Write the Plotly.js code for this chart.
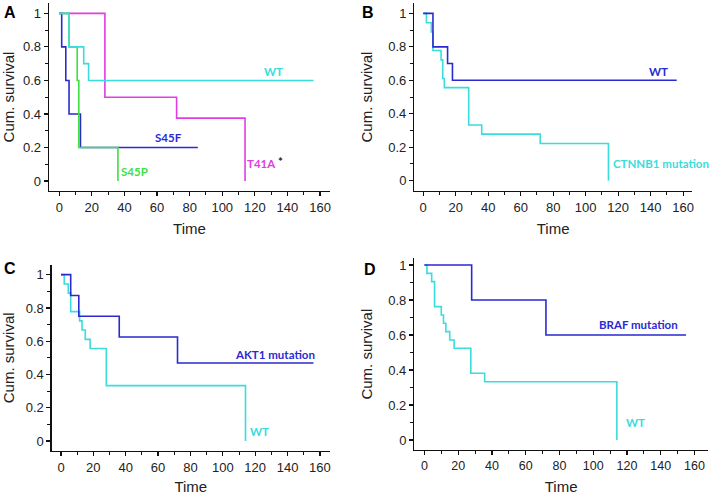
<!DOCTYPE html>
<html>
<head>
<meta charset="utf-8">
<script src="https://cdn.plot.ly/plotly-3.0.1.min.js"></script>
<style>
  html, body { margin: 0; padding: 0; background: #fff; overflow: hidden; }
  #chart { width: 709px; height: 495px; }
</style>
</head>
<body>
<div id="chart"></div>
<script>
// panel A: CTNNB1 variants
const aWtT = [0, 6, 15, 18, 156];
const aWtS = [1, 0.8, 0.7, 0.6, 0.6];
const aS45fT = [0, 1.5, 4, 6, 13, 85];
const aS45fS = [1, 0.8, 0.6, 0.4, 0.2, 0.2];
const aS45pT = [0, 6, 11, 12, 36];
const aS45pS = [1, 0.8, 0.6, 0.2, 0];
const aT41aT = [0, 28, 72, 114];
const aT41aS = [1, 0.5, 0.375, 0];

// panel B: WT vs CTNNB1 mutation
const bWtT = [0, 6, 15, 18, 156];
const bWtS = [1, 0.8, 0.7, 0.6, 0.6];
const bMutT = [0, 2, 5, 6, 11, 12, 13, 28, 36, 72, 114];
const bMutS = [1, 0.944, 0.889, 0.778, 0.722, 0.611, 0.556, 0.333, 0.278, 0.222, 0];

// panel C: AKT1 mutation vs WT
const cMutT = [0, 6, 11, 36, 72, 156];
const cMutS = [1, 0.875, 0.75, 0.625, 0.469, 0.469];
const cWtT = [0, 2, 4.5, 6, 11.5, 13, 15, 18, 28, 114];
const cWtS = [1, 0.944, 0.889, 0.778, 0.722, 0.667, 0.611, 0.556, 0.333, 0];

// panel D: BRAF mutation vs WT
const dMutT = [0, 28, 72, 155];
const dMutS = [1, 0.8, 0.6, 0.6];
const dWtT = [0, 1.5, 4.3, 6, 10, 11.3, 12.7, 15, 17.6, 27.5, 35.7, 114];
const dWtS = [1, 0.952, 0.905, 0.762, 0.714, 0.667, 0.619, 0.571, 0.524, 0.381, 0.333, 0];

const CYAN = "#3adcdc";
const BLUE = "#2a2ad2";
const MAGENTA = "#e23ce2";
const GREEN = "#3fe03f";

function km(x, y, color, ax) {
  return {
    x: x, y: y, type: "scatter", mode: "lines",
    line: { shape: "hv", color: color, width: 1.6 },
    xaxis: "x" + ax, yaxis: "y" + ax,
    hoverinfo: "skip", showlegend: false,
  };
}

const data = [
  km(aT41aT, aT41aS, MAGENTA, ""),
  km(aS45fT, aS45fS, BLUE, ""),
  km(aS45pT, aS45pS, GREEN, ""),
  km(aWtT, aWtS, CYAN, ""),
  km(bMutT, bMutS, CYAN, "2"),
  km(bWtT, bWtS, BLUE, "2"),
  km(cWtT, cWtS, CYAN, "3"),
  km(cMutT, cMutS, BLUE, "3"),
  km(dWtT, dWtS, CYAN, "4"),
  km(dMutT, dMutS, BLUE, "4"),
];

const tickFont = { family: "Liberation Sans, Arial, sans-serif", size: 13, color: "#222" };
const titleFont = { family: "Liberation Sans, Arial, sans-serif", size: 15, color: "#222" };

function xax(domain, range, anchor, fsize) {
  return {
    domain: domain, range: range, anchor: anchor,
    showline: true, linecolor: "#111", linewidth: 1.3,
    showgrid: false, zeroline: false,
    ticks: "outside", ticklen: 4, tickwidth: 1.2, tickcolor: "#111",
    tick0: 0, dtick: 20, tickfont: Object.assign({}, tickFont, { size: fsize || 13 }),
    ticklabeloverflow: "allow",
    minor: { ticks: "outside", ticklen: 3, tickwidth: 1, tickcolor: "#111", dtick: 10, showgrid: false },
    title: { text: "Time", font: titleFont, standoff: 10 },
    fixedrange: true,
  };
}
function yax(domain, range, anchor, standoff) {
  return {
    domain: domain, range: range, anchor: anchor,
    showline: true, linecolor: "#111", linewidth: 1.3,
    showgrid: false, zeroline: false,
    ticks: "outside", ticklen: 4, tickwidth: 1.2, tickcolor: "#111",
    tick0: 0, dtick: 0.2, tickfont: tickFont,
    minor: { ticks: "outside", ticklen: 3, tickwidth: 1, tickcolor: "#111", dtick: 0.1, showgrid: false },
    title: { text: "Cum. survival", font: titleFont, standoff: standoff },
    fixedrange: true,
  };
}

const labFont = (c) => ({ family: "Lato, Liberation Sans, sans-serif", size: 11.5, color: c, weight: "bold" });
function lab(text, x, y, ax, color) {
  return {
    text: "<b>" + text + "</b>", x: x, y: y, xref: "x" + ax, yref: "y" + ax,
    showarrow: false, font: labFont(color), xanchor: "center", yanchor: "middle",
  };
}
function letter(text, x, y) {
  return {
    text: "<b>" + text + "</b>", x: x, y: y, xref: "paper", yref: "paper",
    showarrow: false, xanchor: "center", yanchor: "middle",
    font: { family: "Liberation Sans, Arial, sans-serif", size: 16, color: "#000" },
  };
}

const layout = {
  width: 709, height: 495,
  margin: { l: 0, r: 0, t: 0, b: 0 },
  paper_bgcolor: "#fff", plot_bgcolor: "rgba(0,0,0,0)",
  showlegend: false,
  xaxis: xax([0.0691, 0.4654], [-6.3, 166.1], "y"),
  yaxis: yax([0.6147, 0.9933], [-0.058, 1.06], "x", 8),
  xaxis2: xax([0.5843, 0.976], [-5.5, 165.4], "y2"),
  yaxis2: yax([0.6147, 0.9933], [-0.06, 1.06], "x2", 12),
  xaxis3: xax([0.0729, 0.4654], [-5.75, 166.2], "y3"),
  yaxis3: yax([0.0895, 0.4646], [-0.058, 1.058], "x3", 9),
  xaxis4: xax([0.5843, 0.9986], [-6.0, 168.0], "y4", 12.5),
  yaxis4: yax([0.0909, 0.4782], [-0.057, 1.038], "x4", 12),
  annotations: [
    letter("A", 10 / 709, 1 - 13 / 495),
    letter("B", 368 / 709, 1 - 13 / 495),
    letter("C", 10 / 709, 1 - 268 / 495),
    letter("D", 370 / 709, 1 - 269 / 495),
    lab("WT", 131.3, 0.652, "", CYAN),
    lab("S45F", 66.9, 0.258, "", BLUE),
    lab("S45P", 46.4, 0.055, "", GREEN),
    lab("T41A", 123.9, 0.105, "", MAGENTA),
    lab("*", 135.6, 0.115, "", "#222"),
    lab("WT", 144.6, 0.655, "2", BLUE),
    lab("CTNNB1 mutation", 146.5, 0.1, "2", CYAN),
    lab("AKT1 mutation", 132, 0.521, "3", BLUE),
    lab("WT", 122.6, 0.06, "3", CYAN),
    lab("BRAF mutation", 127, 0.661, "4", BLUE),
    lab("WT", 124.9, 0.099, "4", CYAN),
  ],
};

Plotly.newPlot("chart", data, layout, { staticPlot: true, displayModeBar: false });
</script>
</body>
</html>
